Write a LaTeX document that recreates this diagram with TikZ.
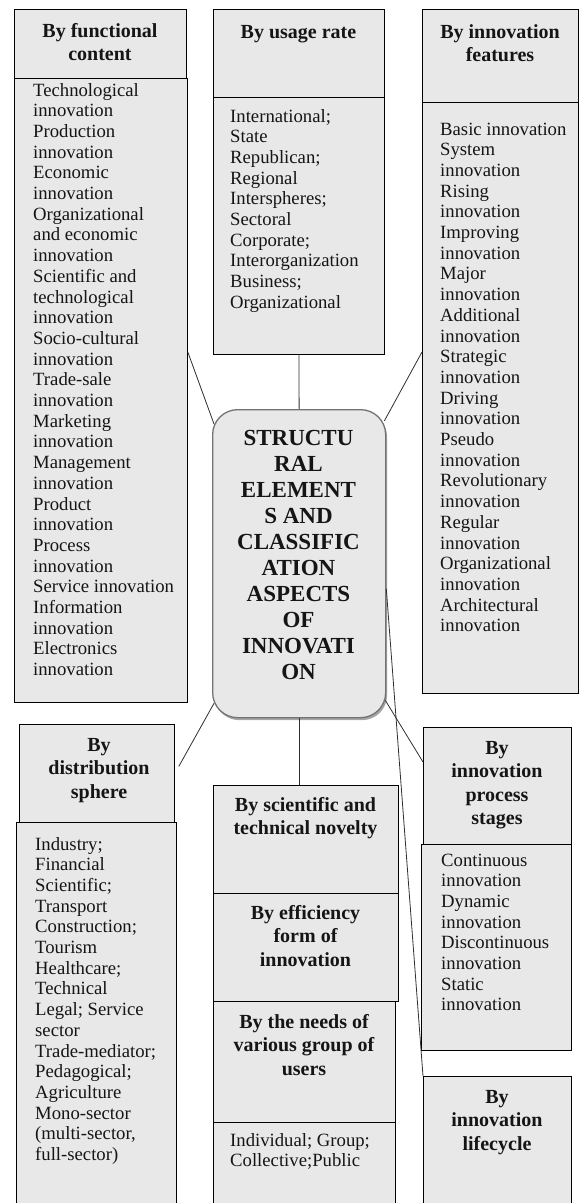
\documentclass[tikz,border=0pt]{standalone}
\usepackage{fontspec}
\setmainfont{Liberation Serif}
\usetikzlibrary{calc,shadows}
\definecolor{boxgray}{HTML}{E8E8E8}
\definecolor{linegray}{HTML}{303030}
\definecolor{txt}{HTML}{151515}
\newcommand\bodyfont{\fontsize{18.7}{20.7}\selectfont}
\newcommand\headfont{\fontsize{20}{23.5}\selectfont\bfseries}
\newcommand\ctrfont{\fontsize{23}{26}\selectfont\bfseries}
\tikzset{
  box/.style={draw=black, fill=boxgray, line width=0.8pt, inner sep=0pt, anchor=north west},
  bodytxt/.style={font=\bodyfont, text=txt, align=left, anchor=base west, inner sep=0pt},
  headtxt/.style={font=\headfont, text=txt, align=center, anchor=base, inner sep=0pt},
  ctrtxt/.style={font=\ctrfont, text=txt, align=center, anchor=base, inner sep=0pt},
  conn/.style={draw=linegray, line width=0.8pt},
}
\newcommand\mkbox[5]{\node[box, minimum width={#4-#2}, minimum height={#5-#3}] (#1) at (#2,#3) {};}
\begin{document}
\begin{tikzpicture}[x=1pt,y=-1pt]
\useasboundingbox[fill=white] (0,0) rectangle (579,1203);
% ---------- boxes ----------
\mkbox{fbody}{14}{78}{187}{702}
\mkbox{fhead}{14}{9}{186}{78}
\mkbox{ubody}{213}{97}{384}{354}
\mkbox{uhead}{213}{9}{384}{97}
\mkbox{ibody}{422}{102}{578}{693}
\mkbox{ihead}{422}{9}{578}{102}
\mkbox{dbody}{16}{822}{176}{1215}
\mkbox{dhead}{19}{724}{174}{822}
\mkbox{nbody}{213}{1122}{395}{1215}
\mkbox{nhead}{213}{1001}{395}{1122}
\mkbox{ehead}{213}{893}{398}{1001}
\mkbox{shead}{213}{785}{398}{893}
\mkbox{pbody}{421}{844}{571}{1050}
\mkbox{phead}{423}{727}{571}{844}
\mkbox{lhead}{423}{1076}{571}{1215}
% ---------- centre ----------
\node[draw=black!55, line width=1.3pt, fill=boxgray, rounded corners=25pt,
      minimum width=173, minimum height=308, inner sep=0pt, anchor=north west,
      drop shadow={shadow xshift=1.5pt, shadow yshift=-2.5pt, fill=black, opacity=0.35}]
      (c) at (212,409) {};
% multi-line nodes: base anchor = baseline of the last line
\node[ctrtxt] (ct) at (298.5,445+9*26) {STRUCTU\\RAL\\ELEMENT\\S AND\\CLASSIFIC\\ATION\\ASPECTS\\OF\\INNOVATI\\ON};
% ---------- headers ----------
\node[headtxt] (fht) at (100,37+23.5) {By functional\\content};
\node[headtxt] (uht) at (298.5,38) {By usage rate};
\node[headtxt] (iht) at (500,38+23.5) {By innovation\\features};
\node[headtxt] (dht) at (99,751+2*23.5) {By\\distribution\\sphere};
\node[headtxt] (pht) at (497,754+3*23.5) {By\\innovation\\process\\stages};
\node[headtxt] (lht) at (497,1103+2*23.5) {By\\innovation\\lifecycle};
\node[headtxt] (sht) at (305.5,811+23.5) {By scientific and\\technical novelty};
\node[headtxt] (eht) at (305.5,919+2*23.5) {By efficiency\\form of\\innovation};
\node[headtxt] (nht) at (304,1028+2*23.5) {By the needs of\\various group of\\users};
% ---------- body texts ----------
\node[bodytxt] (fbt) at (33,96+28*20.7) {Technological\\innovation\\Production\\innovation\\Economic\\innovation\\Organizational\\and economic\\innovation\\Scientific and\\technological\\innovation\\Socio-cultural\\innovation\\Trade-sale\\innovation\\Marketing\\innovation\\Management\\innovation\\Product\\innovation\\Process\\innovation\\Service innovation\\Information\\innovation\\Electronics\\innovation};
\node[bodytxt] (ubt) at (230,122+9*20.7) {International;\\State\\Republican;\\Regional\\Interspheres;\\Sectoral\\Corporate;\\Interorganization\\Business;\\Organizational};
\node[bodytxt] (ibt) at (440,135+24*20.7) {Basic innovation\\System\\innovation\\Rising\\innovation\\Improving\\innovation\\Major\\innovation\\Additional\\innovation\\Strategic\\innovation\\Driving\\innovation\\Pseudo\\innovation\\Revolutionary\\innovation\\Regular\\innovation\\Organizational\\innovation\\Architectural\\innovation};
\node[bodytxt] (dbt) at (35,850+15*20.7) {Industry;\\Financial\\Scientific;\\Transport\\Construction;\\Tourism\\Healthcare;\\Technical\\Legal; Service\\sector\\Trade-mediator;\\Pedagogical;\\Agriculture\\Mono-sector\\(multi-sector,\\full-sector)};
\node[bodytxt] (pbt) at (441,866+7*20.7) {Continuous\\innovation\\Dynamic\\innovation\\Discontinuous\\innovation\\Static\\innovation};
\node[bodytxt] (nbt) at (230,1146+20.7) {Individual; Group;\\Collective;Public};
% ---------- connectors ----------
\draw[conn] ($(fbody.north east)+(0,274)$) -- ($(c.north west)+(2,15)$);
\draw[conn] (ubody.south) -- (c.north);
\draw[conn] ($(ibody.north west)+(0,250)$) -- ($(c.north east)+(-2,12)$);
\draw[conn] ($(c.south west)+(2,-15)$) -- ($(dhead.east)+(4,-7)$);
\draw[conn] (c.south) -- (c.south |- shead.north);
\draw[conn] ($(c.south east)+(-1,-18)$) -- ($(phead.north west)+(0,35)$);
\draw[conn] ($(c.east)+(0,25)$) -- (lhead.north west);
\end{tikzpicture}
\end{document}
